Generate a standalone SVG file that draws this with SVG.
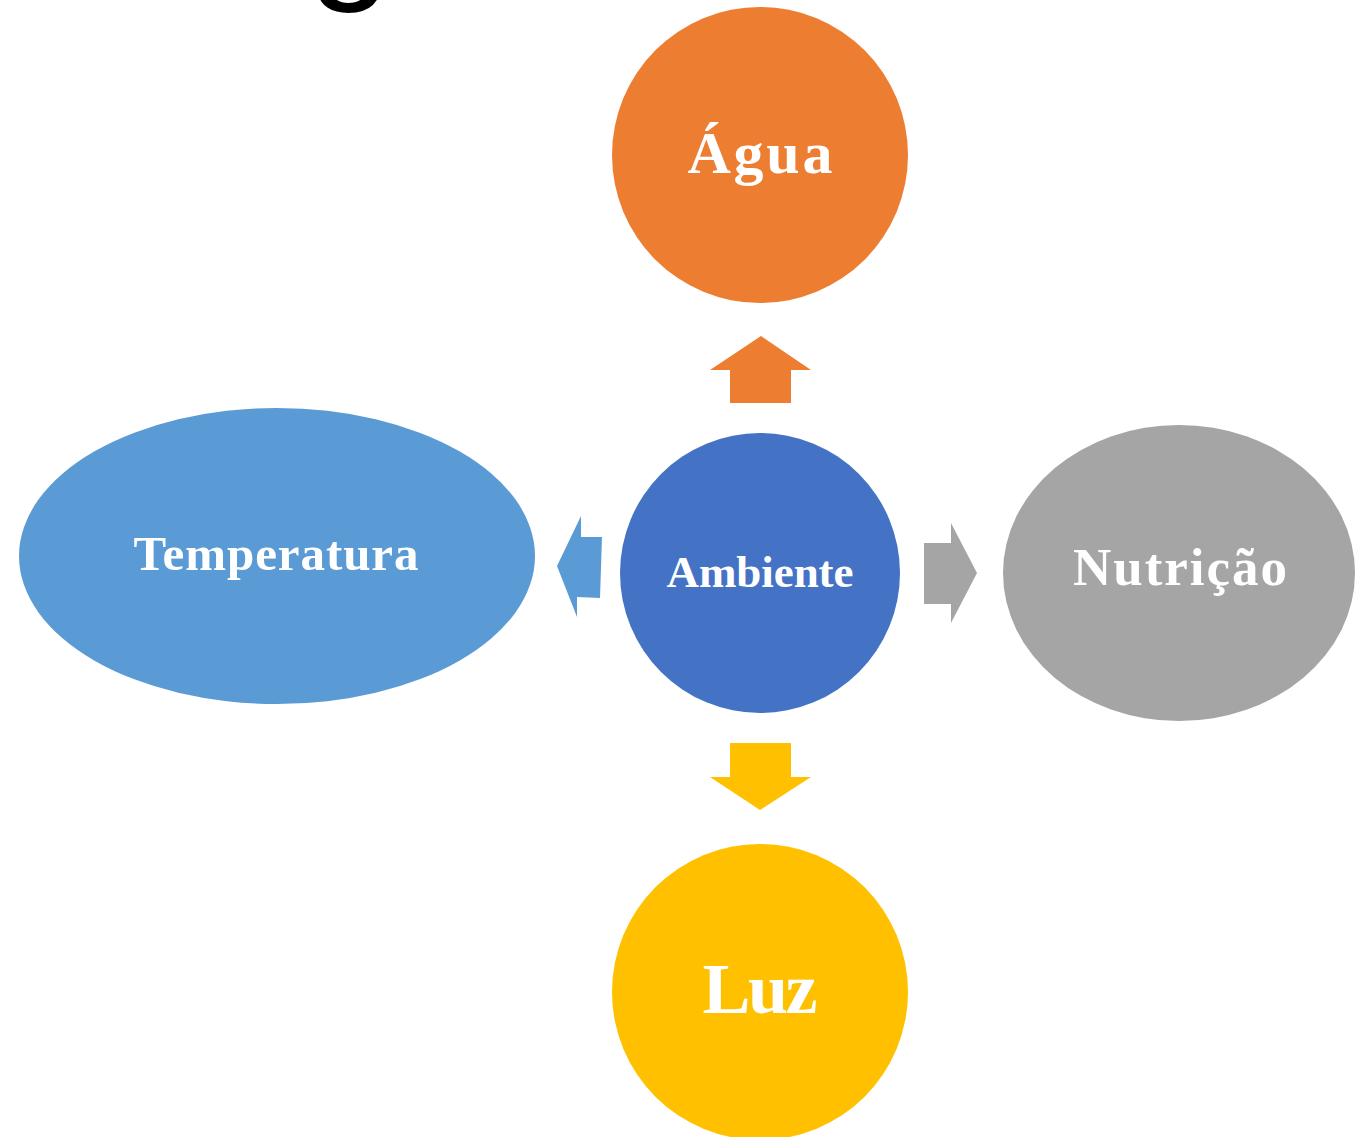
<svg xmlns="http://www.w3.org/2000/svg" width="1361" height="1137" viewBox="0 0 1361 1137">
<style>
.lbl{font-family:"Liberation Serif","Times New Roman",serif;font-weight:bold;fill:#ffffff;text-anchor:middle}
.title{font-family:"Liberation Sans",Arial,sans-serif;fill:#000000;text-anchor:middle}
</style>
<rect width="1361" height="1137" fill="#ffffff"/>
<text class="title" x="350" y="-18" font-size="150">g</text>
<g id="connectors">
<polygon id="arrow-agua" fill="#ED7D31" points="761,336 811,370 791,370 791,403 730,403 730,370 710,370"/>
<polygon id="arrow-luz" fill="#FFC000" points="760,810 811,777 791,777 791,743 730,743 730,777 710,777"/>
<polygon id="arrow-temp" fill="#5B9BD5" points="557,566 581,516 581,537 602,537 600,598 577,597 577,617"/>
<polygon id="arrow-nutri" fill="#A5A5A5" points="977,573 951,523 951,543 924,543 924,604 951,604 951,623"/>
</g>
<g id="node-agua">
<circle cx="760" cy="155" r="148" fill="#ED7D31"/>
<text class="lbl" x="760" y="173" font-size="60" textLength="145" lengthAdjust="spacing">Água</text>
</g>
<g id="node-temperatura">
<ellipse cx="277" cy="556" rx="258" ry="148" fill="#5B9BD5"/>
<text class="lbl" x="276" y="570" font-size="49" textLength="285" lengthAdjust="spacing">Temperatura</text>
</g>
<g id="node-ambiente">
<circle cx="760" cy="573" r="140" fill="#4472C4"/>
<text class="lbl" x="760" y="587" font-size="45" textLength="187" lengthAdjust="spacing">Ambiente</text>
</g>
<g id="node-nutricao">
<ellipse cx="1179" cy="573" rx="176" ry="148" fill="#A5A5A5"/>
<text class="lbl" x="1180" y="585" font-size="53" textLength="214" lengthAdjust="spacing">Nutrição</text>
</g>
<g id="node-luz">
<circle cx="760" cy="992" r="148" fill="#FFC000"/>
<text class="lbl" x="760" y="1013" font-size="72" textLength="115" lengthAdjust="spacing">Luz</text>
</g>
</svg>
